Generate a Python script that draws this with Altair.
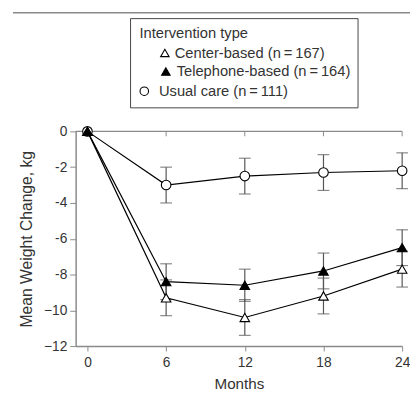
import altair as alt
import pandas as pd

months = [0, 6, 12, 18, 24]
groups = ["Usual care", "Center-based", "Telephone-based"]
usual_vals = [0, -3.0, -2.5, -2.3, -2.2]
center_vals = [0, -9.3, -10.4, -9.2, -7.7]
tele_vals = [0, -8.4, -8.6, -7.8, -6.5]
usual_err = [0, 1.0, 1.0, 1.0, 1.0]
center_err = [0, 1.0, 1.0, 1.0, 1.0]
tele_err = [0, 1.0, 0.9, 1.0, 1.0]
shapes = ["circle", "triangle-up", "triangle-up"]
fills = ["white", "white", "black"]

y_ticks = [0, -2, -4, -6, -8, -10, -12]
y_tick_labels = ["0", "-2", "-4", "-6", "-8", "\u221210", "\u221212"]
x_ticks = [0, 6, 12, 18, 24]
legend_title = "Intervention type"
legend_labels = ["Center-based (n\u2009=\u2009167)", "Telephone-based (n\u2009=\u2009164)", "Usual care (n\u2009=\u2009111)"]

FONT = "Liberation Sans"
TXT = "#333333"
AX = "#8a8a8a"
W, H = 333, 219

rows = []
for g, vals, errs in zip(groups, [usual_vals, center_vals, tele_vals], [usual_err, center_err, tele_err]):
    for m, v, e in zip(months, vals, errs):
        rows.append({"month": m, "value": v, "group": g, "lo": v - e, "hi": v + e, "has_err": e > 0})
df = pd.DataFrame(rows)
df_err = df[df["has_err"]]

label_expr = ""
for v, lab in zip(y_ticks, y_tick_labels):
    label_expr += f"datum.value == {v} ? '{lab}' : "
label_expr += "''"

x_scale = alt.Scale(domain=[-0.9, 24], nice=False, zero=False)
y_scale = alt.Scale(domain=[-12, 0], nice=False, zero=False)
x_axis = alt.Axis(values=x_ticks, title="Months", grid=False, tickSize=5, labelPadding=5,
                  titlePadding=7, labelFlush=False, titleFontSize=15.5)
y_axis = alt.Axis(values=y_ticks, title="Mean Weight Change, kg", grid=False, tickSize=6,
                  labelPadding=3, titlePadding=9, labelExpr=label_expr, titleFontSize=16)

x_enc = alt.X("month:Q", scale=x_scale, axis=x_axis)
y_enc = alt.Y("value:Q", scale=y_scale, axis=y_axis)

base = alt.Chart(df)

lines = base.mark_line(color="black", strokeWidth=1.2).encode(
    x=x_enc, y=y_enc, detail="group:N")

err_rule = alt.Chart(df_err).mark_rule(color="#555555", strokeWidth=1.2).encode(
    x=x_enc, y=alt.Y("lo:Q", scale=y_scale, axis=y_axis), y2="hi:Q")
cap_lo = alt.Chart(df_err).mark_tick(orient="horizontal", size=12, thickness=1.2, color="#555555").encode(
    x=x_enc, y=alt.Y("lo:Q", scale=y_scale, axis=y_axis))
cap_hi = alt.Chart(df_err).mark_tick(orient="horizontal", size=12, thickness=1.2, color="#555555").encode(
    x=x_enc, y=alt.Y("hi:Q", scale=y_scale, axis=y_axis))

points = base.mark_point(filled=True, stroke="black", strokeWidth=1.1, size=95, opacity=1).encode(
    x=x_enc, y=y_enc,
    shape=alt.Shape("group:N", scale=alt.Scale(domain=groups, range=shapes), legend=None),
    fill=alt.Fill("group:N", scale=alt.Scale(domain=groups, range=fills), legend=None),
)

one = pd.DataFrame({"a": [0]})
top_line = alt.Chart(one).mark_rule(color=AX, strokeWidth=1.5).encode(
    x=alt.value(0), x2=alt.value(W), y=alt.value(0))
top_ticks = alt.Chart(pd.DataFrame({"month": x_ticks})).mark_rule(color=AX, strokeWidth=1).encode(
    x=x_enc, y=alt.value(0), y2=alt.value(5))
page_line = alt.Chart(one).mark_rule(color=AX, strokeWidth=1.5).encode(
    x=alt.value(-64), x2=alt.value(W + 10), y=alt.value(-121))

legend_box = alt.Chart(one).mark_rect(fill="white", stroke="#444444", strokeWidth=1).encode(
    x=alt.value(56), x2=alt.value(288), y=alt.value(-115), y2=alt.value(-24))

def txt(s, x, y):
    return alt.Chart(one).mark_text(text=s, align="left", baseline="alphabetic", font=FONT,
                                    fontSize=15, color=TXT).encode(x=alt.value(x), y=alt.value(y))

leg = [legend_box,
       txt(legend_title, 65, -95),
       txt(legend_labels[0], 101, -75),
       txt(legend_labels[1], 103, -56),
       txt(legend_labels[2], 85, -36)]
leg_marks = [
    alt.Chart(one).mark_point(shape="triangle-up", filled=True, fill="white", stroke="black",
                              strokeWidth=1.1, size=75, opacity=1).encode(x=alt.value(91), y=alt.value(-80)),
    alt.Chart(one).mark_point(shape="triangle-up", filled=True, fill="black", stroke="black",
                              strokeWidth=1.1, size=75, opacity=1).encode(x=alt.value(92), y=alt.value(-61)),
    alt.Chart(one).mark_point(shape="circle", filled=True, fill="white", stroke="black",
                              strokeWidth=1.1, size=75, opacity=1).encode(x=alt.value(70), y=alt.value(-41)),
]

chart = alt.layer(
    page_line, top_line, top_ticks, err_rule, cap_lo, cap_hi, lines, points, *leg, *leg_marks
).properties(
    width=W, height=H, autosize="none",
    padding={"left": 69, "top": 122, "right": 8, "bottom": 44},
).configure_view(stroke=None).configure_axis(
    domainColor=AX, domainWidth=1.5, tickColor=AX, tickWidth=1,
    labelFont=FONT, labelFontSize=14, labelColor=TXT,
    titleFont=FONT, titleColor=TXT, titleFontWeight="normal",
)

chart.save("out.html", embed_options={"renderer": "svg", "actions": False})
